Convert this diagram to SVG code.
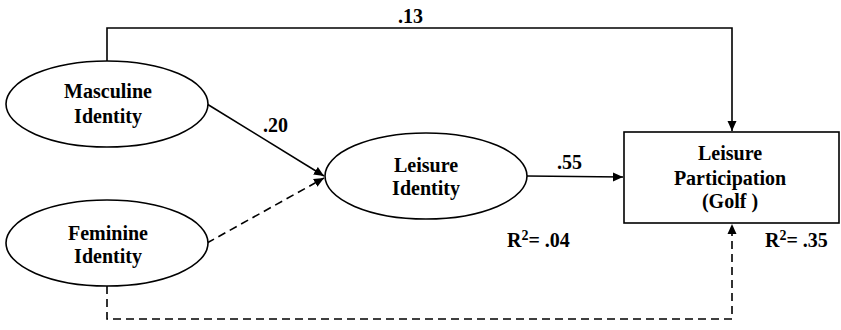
<svg xmlns="http://www.w3.org/2000/svg" width="841" height="330" viewBox="0 0 841 330">
<style>
.node{fill:#fff;stroke:#000;stroke-width:1.6}
.t{font-family:"Liberation Serif","Times New Roman",serif;font-weight:bold;font-size:20px;fill:#000;text-anchor:middle}
.lbl{font-family:"Liberation Serif","Times New Roman",serif;font-weight:bold;font-size:20px;fill:#000}
.c{fill:none;stroke:#000;stroke-width:1.6}
.d{stroke-dasharray:8 5}
</style>
<defs>
<marker id="ah" viewBox="0 0 10 10" refX="10" refY="5" markerWidth="10" markerHeight="10" markerUnits="userSpaceOnUse" orient="auto">
<path d="M0,0.5 L10,5 L0,9.5 Z" fill="#000"/>
</marker>
</defs>
<rect width="841" height="330" fill="#fff"/>
<g id="connectors">
<path class="c" d="M107,61 V28 H732 V131" marker-end="url(#ah)"/>
<path class="c" d="M207,104 L324,176" marker-end="url(#ah)"/>
<path class="c d" d="M207,243 L324,178" marker-end="url(#ah)"/>
<path class="c" d="M527,176 L623,177" marker-end="url(#ah)"/>
<path class="c d" d="M107,286 V319 H732 V224" marker-end="url(#ah)"/>
</g>
<g id="masculine">
<ellipse class="node" cx="107" cy="104" rx="101" ry="43"/>
<text class="t" x="108" y="98">Masculine</text>
<text class="t" x="108" y="123">Identity</text>
</g>
<g id="feminine">
<ellipse class="node" cx="107" cy="243" rx="101" ry="43"/>
<text class="t" x="108" y="240">Feminine</text>
<text class="t" x="108" y="263">Identity</text>
</g>
<g id="leisure-identity">
<ellipse class="node" cx="426" cy="176" rx="101" ry="43"/>
<text class="t" x="426" y="172">Leisure</text>
<text class="t" x="426" y="195">Identity</text>
</g>
<g id="leisure-participation">
<rect class="node" x="624" y="132" width="215" height="91"/>
<text class="t" x="730" y="160">Leisure</text>
<text class="t" x="730" y="185">Participation</text>
<text class="t" x="730" y="208">(Golf )</text>
</g>
<g id="labels">
<text class="lbl" x="398" y="23">.13</text>
<text class="lbl" x="263" y="132">.20</text>
<text class="lbl" x="557" y="169">.55</text>
<text class="lbl" x="507" y="247">R<tspan font-size="14" dy="-7">2</tspan><tspan dy="7">= .04</tspan></text>
<text class="lbl" x="765" y="247">R<tspan font-size="14" dy="-7">2</tspan><tspan dy="7">= .35</tspan></text>
</g>
</svg>
